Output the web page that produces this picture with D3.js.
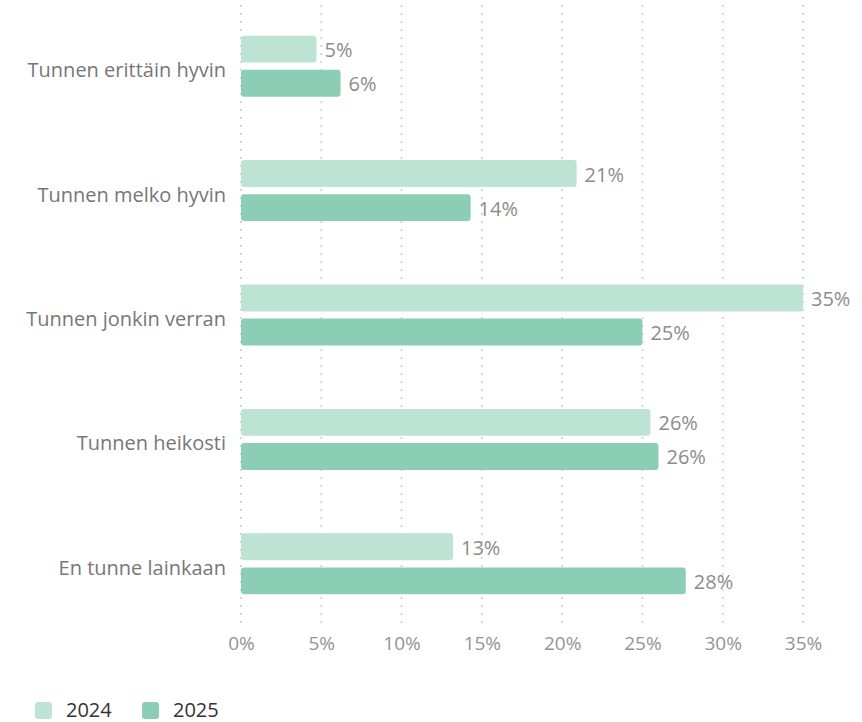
<!DOCTYPE html>
<html><head><meta charset="utf-8">
<script src="https://cdn.jsdelivr.net/npm/d3@7"></script>
<style>
body{margin:0;background:#fff;font-family:"Open Sans",sans-serif;}
</style></head>
<body><svg id="c" width="862" height="722"></svg>
<script>
const categories = ["Tunnen erittäin hyvin","Tunnen melko hyvin","Tunnen jonkin verran","Tunnen heikosti","En tunne lainkaan"];
const series = ["2024","2025"];
const values2024 = [4.7, 20.9, 35.0, 25.5, 13.2];
const values2025 = [6.2, 14.3, 25.0, 26.0, 27.7];
const ticks = [0,5,10,15,20,25,30,35];
const colors = ["#bce3d4","#8ccdb5"];

const svg = d3.select("#c");
const x = d3.scaleLinear().domain([0,35]).range([241,803]);
const y = d3.scaleBand().domain(categories).range([4,626]).paddingInner(0).paddingOuter(0);
const half = 30.5;
const inner = d3.scaleBand().domain(series)
  .range([y.bandwidth()/2 - half, y.bandwidth()/2 + half]).paddingInner(0.21).paddingOuter(0);

// grid
svg.append("g").selectAll("line").data(ticks).join("line")
  .attr("x1",d=>x(d)).attr("x2",d=>x(d)).attr("y1",5).attr("y2",624)
  .attr("stroke","#d4d4d4").attr("stroke-width",2).attr("stroke-dasharray","2,6");

// axis
const ax = svg.append("g").attr("transform","translate(0,633)")
  .call(d3.axisBottom(x).tickValues(ticks).tickFormat(d=>d+"%").tickSize(0).tickPadding(3));
ax.select(".domain").remove();
ax.selectAll("text").attr("fill","#949494").style("font-size","19px").style("font-family","Open Sans, sans-serif");

// category labels
svg.append("g").selectAll("text").data(categories).join("text")
  .attr("x",226).attr("y",d=>y(d)+y.bandwidth()/2+4).attr("dy","0.35em")
  .attr("text-anchor","end").attr("fill","#777").style("font-size","20px").text(d=>d);

const rows = [];
categories.forEach((c,i)=>{
  rows.push({c, s:"2024", v:values2024[i], col:colors[0]});
  rows.push({c, s:"2025", v:values2025[i], col:colors[1]});
});

svg.append("g").selectAll("rect").data(rows).join("rect")
  .attr("x",x(0)).attr("y",d=>y(d.c)+inner(d.s))
  .attr("width",d=>x(d.v)-x(0)).attr("height",inner.bandwidth())
  .attr("rx",3).attr("fill",d=>d.col);

svg.append("g").selectAll("text").data(rows).join("text")
  .attr("x",d=>x(d.v)+8).attr("y",d=>y(d.c)+inner(d.s)+inner.bandwidth()/2+1).attr("dy","0.35em")
  .attr("fill","#8c8c8c").style("font-size","20px").text(d=>Math.round(d.v)+"%");

// legend
const lg = svg.append("g").attr("transform","translate(35,702)");
const item = lg.selectAll("g").data(series).join("g").attr("transform",(d,i)=>`translate(${i*107},0)`);
item.append("rect").attr("width",17).attr("height",17).attr("rx",3).attr("fill",(d,i)=>colors[i]);
item.append("text").attr("x",31).attr("y",14.5).attr("fill","#333").style("font-size","20px").text(d=>d);
</script></body></html>
